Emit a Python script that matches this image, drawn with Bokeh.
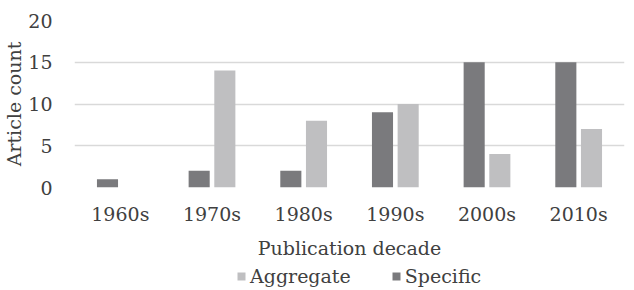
from bokeh.plotting import figure
from bokeh.layouts import column
from bokeh.models import ColumnDataSource, FactorRange, Range1d, Legend, LegendItem, FixedTicker
from bokeh.transform import dodge
from bokeh.embed import file_html
from bokeh.resources import INLINE

decades = ["1960s", "1970s", "1980s", "1990s", "2000s", "2010s"]
specific = [1, 2, 2, 9, 15, 15]
aggregate = [0, 14, 8, 10, 4, 7]
y_ticks = [0, 5, 10, 15, 20]
series_names = ["Aggregate", "Specific"]

FONT = "DejaVu Serif"
FS = "19px"
TEXT = "#404040"
DARK = "#7a7a7d"
LIGHT = "#bfbfc1"

src = ColumnDataSource(dict(decade=decades, specific=specific, aggregate=aggregate))

p = figure(x_range=FactorRange(*decades), y_range=Range1d(0, 20),
           width=626, height=261, output_backend="svg", toolbar_location=None,
           min_border_left=72, min_border_right=2, min_border_top=20, min_border_bottom=74)
p.outline_line_color = None
p.background_fill_color = "white"

r_spec = p.vbar(x=dodge("decade", -0.14, range=p.x_range), top="specific", width=0.23,
                source=src, fill_color=DARK, line_color=None)
r_agg = p.vbar(x=dodge("decade", 0.14, range=p.x_range), top="aggregate", width=0.23,
               source=src, fill_color=LIGHT, line_color=None)

p.xgrid.grid_line_color = None
p.ygrid.grid_line_color = "#d9d9d9"
p.ygrid.grid_line_width = 1.5
p.yaxis.ticker = FixedTicker(ticks=y_ticks)

for ax in (p.xaxis[0], p.yaxis[0]):
    ax.axis_line_color = None
    ax.major_tick_line_color = None
    ax.minor_tick_line_color = None
    ax.major_label_text_font = FONT
    ax.major_label_text_font_size = FS
    ax.major_label_text_color = TEXT
    ax.axis_label_text_font = FONT
    ax.axis_label_text_font_size = FS
    ax.axis_label_text_font_style = "normal"
    ax.axis_label_text_color = TEXT

p.xaxis.axis_label = "Publication decade"
p.yaxis.axis_label = "Article count"
p.yaxis.major_label_standoff = 16
p.yaxis.axis_label_standoff = 0
p.xaxis.major_label_standoff = 9
p.xaxis.axis_label_standoff = 9

# legend strip below the chart (zero-width key glyphs, only their colours are used)
lf = figure(width=626, height=27, output_backend="svg", toolbar_location=None,
            x_range=Range1d(0, 1), y_range=Range1d(0, 1), min_border=0,
            x_axis_location=None, y_axis_location=None)
lf.grid.grid_line_color = None
lf.outline_line_color = None
k_agg = lf.vbar(x=[0.5], top=[0], bottom=[0], width=0, fill_color=LIGHT, line_color=None)
k_spec = lf.vbar(x=[0.5], top=[0], bottom=[0], width=0, fill_color=DARK, line_color=None)

legend = Legend(items=[LegendItem(label=series_names[0], renderers=[k_agg]),
                       LegendItem(label=series_names[1], renderers=[k_spec])],
                orientation="horizontal", location=(162, 1),
                label_text_font=FONT, label_text_font_size=FS, label_text_color=TEXT,
                label_height=18, glyph_width=10, glyph_height=10, label_standoff=4, spacing=40,
                padding=0, margin=0, border_line_color=None, background_fill_alpha=0)
lf.add_layout(legend, "center")

open("out.html", "w").write(file_html(column(p, lf, spacing=0), INLINE))
